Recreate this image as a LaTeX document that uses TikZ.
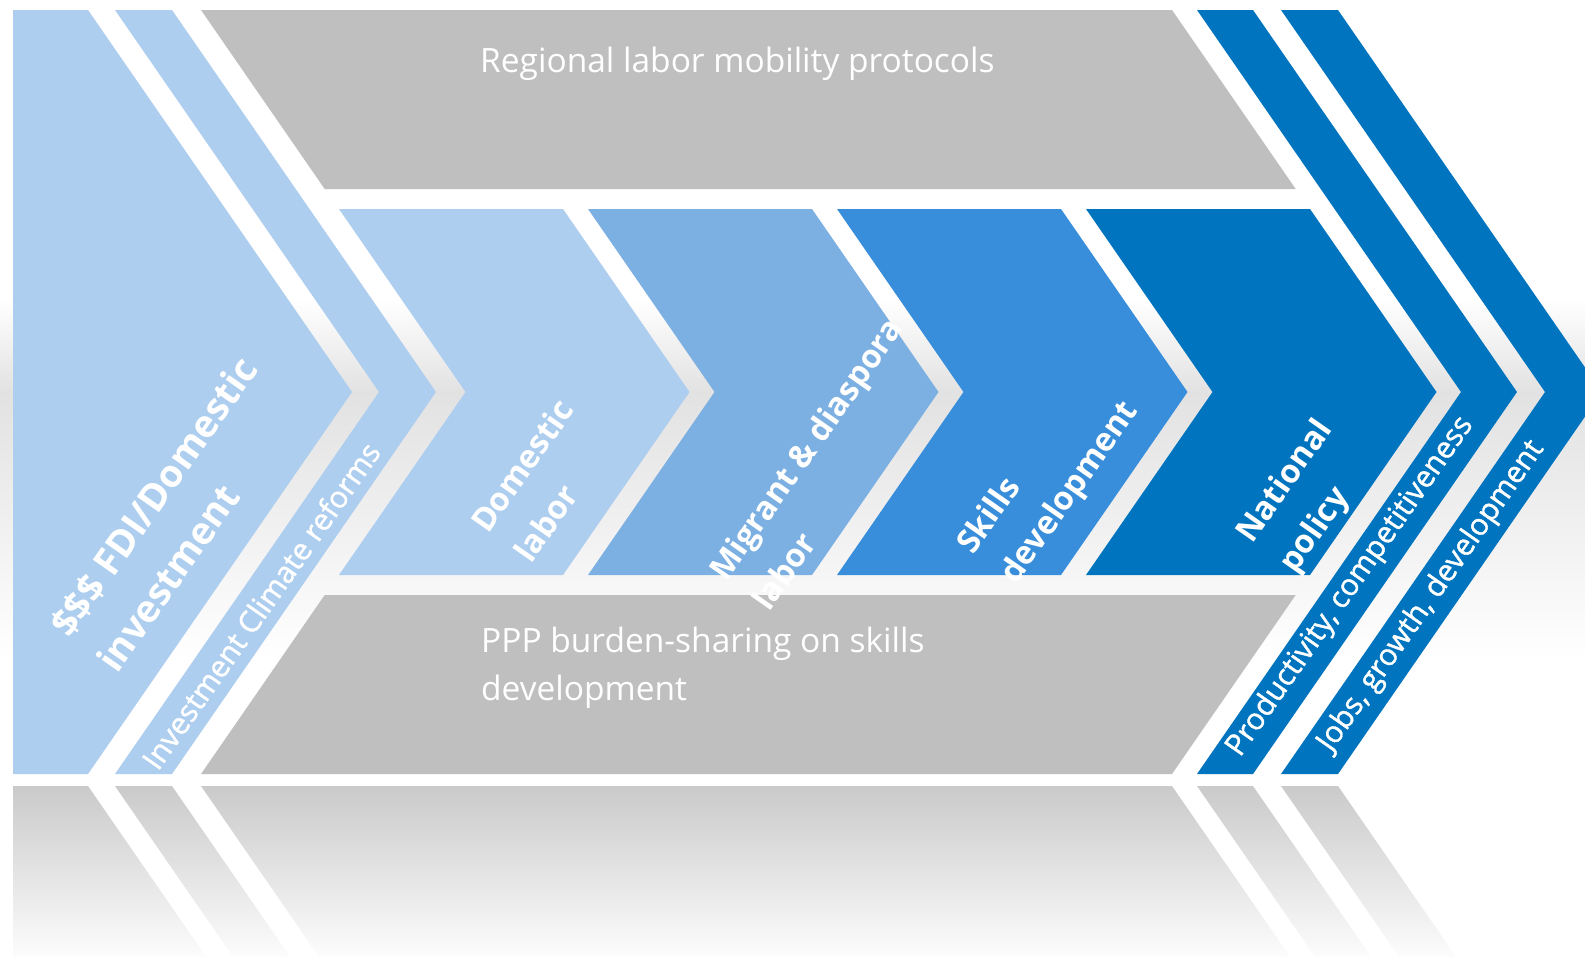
\documentclass[tikz,border=0pt]{standalone}
\usepackage{fontspec}
\setmainfont{Open Sans}
\newfontfamily\osemi[FakeBold=1.3]{Open Sans}
\definecolor{lb}{RGB}{173,206,239}
\definecolor{mb}{RGB}{125,176,226}
\definecolor{sb}{RGB}{56,142,218}
\definecolor{db}{RGB}{0,116,190}
\definecolor{gb}{RGB}{190,191,190}
\definecolor{bgg}{RGB}{226,226,226}
\definecolor{refl}{RGB}{202,202,202}
\definecolor{reflb}{RGB}{252,252,252}
\begin{document}
\begin{tikzpicture}[x=1pt,y=-1pt,
  lbl/.style={text=white, inner sep=0pt, anchor=base west, rotate=55, font=\bfseries\fontsize{32.5}{40}\selectfont},
  biglbl/.style={lbl, font=\bfseries\fontsize{38}{46}\selectfont},
  slbl/.style={text=white, inner sep=0pt, anchor=base west, rotate=55, font=\osemi\fontsize{30}{36}\selectfont},
  gtxt/.style={text=white, inner sep=0pt, anchor=base west, font=\fontsize{33.5}{48}\selectfont}]
\useasboundingbox (0,0) rectangle (1585,956);
\clip (0,0) rectangle (1585,956);
\fill[white] (0,0) rectangle (1585,956);
% background band
\shade[top color=white, bottom color=bgg] (0,300) rectangle (1585,392);
\shade[top color=bgg, bottom color=white] (0,392) rectangle (1585,660);
% outer chevrons
\fill[lb] (13,10) -- (88,10) -- (352,392) -- (88,774) -- (13,774) -- cycle;
\fill[lb] (115,10) -- (172,10) -- (436,392) -- (172,774) -- (115,774) -- (379,392) -- cycle;
\fill[gb] (201,10) -- (1172,10) -- (1295.7,189) -- (324.7,189) -- cycle;
\fill[gb] (324.7,595) -- (1295.7,595) -- (1172,774) -- (201,774) -- cycle;
% inner chevrons
\fill[lb] (339,209) -- (563,209) -- (689.5,392) -- (563,575) -- (339,575) -- (465.5,392) -- cycle;
\fill[mb] (588,209) -- (812,209) -- (938.5,392) -- (812,575) -- (588,575) -- (714.5,392) -- cycle;
\fill[sb] (837,209) -- (1061,209) -- (1187.5,392) -- (1061,575) -- (837,575) -- (963.5,392) -- cycle;
\fill[db] (1086,209) -- (1310,209) -- (1436.5,392) -- (1310,575) -- (1086,575) -- (1212.5,392) -- cycle;
% right bands
\fill[db] (1197,10) -- (1253,10) -- (1517,392) -- (1253,774) -- (1197,774) -- (1461,392) -- cycle;
\fill[db] (1281,10) -- (1338,10) -- (1602,392) -- (1338,774) -- (1281,774) -- (1545,392) -- cycle;
% reflection
\begin{scope}
\clip (13,786) -- (88,786) -- (352,1168) -- (13,1168) -- cycle
      (115,786) -- (172,786) -- (436,1168) -- (379,1168) -- cycle
      (201,786) -- (1172,786) -- (1295.7,965) -- (324.7,965) -- cycle
      (1197,786) -- (1253,786) -- (1517,1168) -- (1461,1168) -- cycle
      (1281,786) -- (1338,786) -- (1602,1168) -- (1545,1168) -- cycle;
\shade[top color=refl, bottom color=reflb] (0,786) rectangle (1585,956);
\end{scope}
% texts
\node[gtxt] (reg) at (480,72) {Regional labor mobility protocols};
\node[gtxt] (ppp1) at (481,652) {PPP burden-sharing on skills};
\node[gtxt] (ppp2) at (481,700) {development};
\node[biglbl] (fdi1) at (70,640) {\$\$\$ FDI/Domestic};
\node[biglbl] (fdi2) at (117,675) {investment};
\node[slbl] (icr) at (158,772) {Investment Climate reforms};
\node[lbl] (dom1) at (488,535) {Domestic};
\node[lbl] (dom2) at (531,565) {labor};
\node[lbl] (mig1) at (726,583) {Migrant \& diaspora};
\node[lbl] (mig2) at (769,613) {labor};
\node[lbl] (sk1) at (973,556) {Skills};
\node[lbl] (sk2) at (1016,586) {development};
\node[lbl] (nat1) at (1252,545) {National};
\node[lbl] (nat2) at (1295,575) {policy};
\node[slbl] (prod) at (1240,758) {Productivity, competitiveness};
\node[slbl] (jobs) at (1331,753) {Jobs, growth, development};
\end{tikzpicture}
\end{document}
